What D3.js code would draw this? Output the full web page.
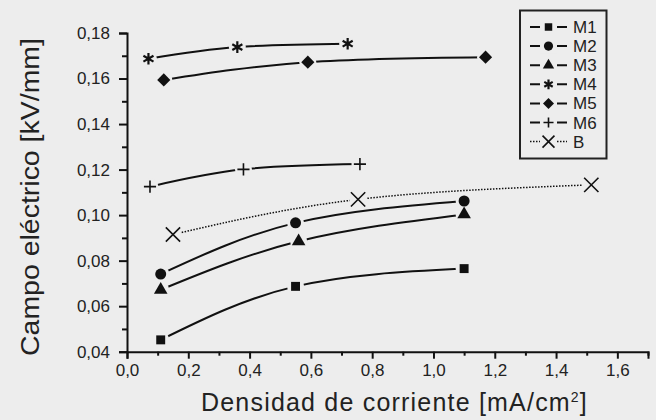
<!DOCTYPE html>
<html>
<head>
<meta charset="utf-8">
<script src="https://cdn.jsdelivr.net/npm/d3@7"></script>
<style>
    body { margin: 0; background: #ededed; }
    svg { display: block; font-family: "Liberation Sans", Arial, sans-serif; }
</style>
</head>
<body>
<div id="chart"></div>
<script>
// series data
const seriesNames = ['M1', 'M2', 'M3', 'M4', 'M5', 'M6', 'B'];
const m1X = [0.11, 0.55, 1.10], m1Y = [0.0452, 0.0687, 0.0765];
const m2X = [0.11, 0.55, 1.10], m2Y = [0.0741, 0.0966, 0.1062];
const m3X = [0.11, 0.56, 1.10], m3Y = [0.0672, 0.0885, 0.1003];
const m4X = [0.07, 0.36, 0.72], m4Y = [0.1687, 0.1738, 0.1753];
const m5X = [0.12, 0.59, 1.17], m5Y = [0.1594, 0.1672, 0.1694];
const m6X = [0.075, 0.38, 0.76], m6Y = [0.1125, 0.1201, 0.1224];
const bX = [0.15, 0.754, 1.515], bY = [0.0915, 0.1069, 0.1133];

const xTicks = [0, 0.2, 0.4, 0.6, 0.8, 1.0, 1.2, 1.4, 1.6];
const xMinor = [0.1, 0.3, 0.5, 0.7, 0.9, 1.1, 1.3, 1.5, 1.7];
const yTicks = [0.04, 0.06, 0.08, 0.10, 0.12, 0.14, 0.16, 0.18];
const yMinor = [0.05, 0.07, 0.09, 0.11, 0.13, 0.15, 0.17];

const xTitle = 'Densidad de corriente [mA/cm';
const yTitle = 'Campo eléctrico [kV/mm]';

const width = 656, height = 420;
const margin = { top: 33, right: 8, bottom: 68.3, left: 127 };
const bg = '#ededed';

const series = [
    { name: 'M1', xs: m1X, ys: m1Y, sym: 'square' },
    { name: 'M2', xs: m2X, ys: m2Y, sym: 'circle' },
    { name: 'M3', xs: m3X, ys: m3Y, sym: 'triangle' },
    { name: 'M4', xs: m4X, ys: m4Y, sym: 'asterisk' },
    { name: 'M5', xs: m5X, ys: m5Y, sym: 'diamond' },
    { name: 'M6', xs: m6X, ys: m6Y, sym: 'plus' },
    { name: 'B', xs: bX, ys: bY, sym: 'times', dotted: true }
];

const svg = d3.select('#chart').append('svg')
    .attr('width', width)
    .attr('height', height);

svg.append('rect').attr('width', width).attr('height', height).attr('fill', bg);

const x = d3.scaleLinear().domain([0, 1.7]).range([margin.left, width - margin.right]);
const y = d3.scaleLinear().domain([0.04, 0.18]).range([height - margin.bottom, margin.top]);

const comma = f => v => d3.format(f)(v).replace('.', ',');

// axes
svg.append('g')
    .attr('transform', `translate(0,${y(0.04)})`)
    .call(d3.axisBottom(x).tickValues(xTicks).tickFormat(comma('.1f')).tickSize(7).tickPadding(5));
svg.append('g')
    .attr('transform', `translate(0,${y(0.04)})`)
    .call(d3.axisBottom(x).tickValues(xMinor).tickFormat('').tickSize(4))
    .select('.domain').remove();

svg.append('g')
    .attr('transform', `translate(${x(0)},0)`)
    .call(d3.axisLeft(y).tickValues(yTicks).tickFormat(comma('.2f')).tickSize(8).tickPadding(9));
svg.append('g')
    .attr('transform', `translate(${x(0)},0)`)
    .call(d3.axisLeft(y).tickValues(yMinor).tickFormat('').tickSize(5))
    .select('.domain').remove();

svg.selectAll('.domain').attr('stroke', '#111').attr('stroke-width', 2);
svg.selectAll('.tick line').attr('stroke', '#111').attr('stroke-width', 2);
svg.selectAll('.tick text')
    .attr('fill', '#222')
    .style('font-size', '17px')
    .style('font-family', '"Liberation Sans", Arial, sans-serif');

// axis titles
const xt = svg.append('text')
    .attr('x', 201)
    .attr('y', 411)
    .attr('fill', '#222')
    .style('font-size', '25px')
    .style('letter-spacing', '1.2px');
xt.append('tspan').text(xTitle);
xt.append('tspan').attr('dy', -9).style('font-size', '14px').text('2');
xt.append('tspan').attr('dy', 9).text(']');

svg.append('text')
    .attr('transform', 'translate(39,197) rotate(-90)')
    .attr('text-anchor', 'middle')
    .attr('fill', '#222')
    .attr('textLength', 318)
    .attr('lengthAdjust', 'spacingAndGlyphs')
    .style('font-size', '26px')
    .text(yTitle);

// marker drawing
function symbolPath(sym, s) {
    const types = {
        square: d3.symbolSquare, circle: d3.symbolCircle, triangle: d3.symbolTriangle,
        asterisk: d3.symbolAsterisk, diamond: d3.symbolDiamond2, plus: d3.symbolPlus, times: d3.symbolTimes
    };
    return d3.symbol().type(types[sym]).size(s)();
}
const stroked = { asterisk: true, plus: true, times: true };
const mainSize = { square: 80, circle: 95, triangle: 80, asterisk: 95, diamond: 110, plus: 50, times: 135 };

function drawMarker(g, sym, cx, cy, scale) {
    const p = g.append('path')
        .attr('transform', `translate(${cx},${cy})`)
        .attr('d', symbolPath(sym, mainSize[sym] * scale));
    if (stroked[sym]) {
        p.attr('fill', 'none').attr('stroke', '#111').attr('stroke-width', sym === 'asterisk' ? 2.2 : 1.6);
    } else {
        p.attr('fill', '#111');
    }
}

// lines
const line = d3.line().curve(d3.curveNatural).x(d => x(d[0])).y(d => y(d[1]));
series.forEach(s => {
    const pts = s.xs.map((v, i) => [v, s.ys[i]]);
    svg.append('path')
        .attr('d', line(pts))
        .attr('fill', 'none')
        .attr('stroke', '#111')
        .attr('stroke-width', s.dotted ? 1.5 : 2)
        .attr('stroke-dasharray', s.dotted ? '1.5,1.5' : null);
});

// gaps around markers, then markers
series.forEach(s => {
    s.xs.forEach((v, i) => {
        svg.append('circle').attr('cx', x(v)).attr('cy', y(s.ys[i])).attr('r', 8.5).attr('fill', bg);
    });
});
series.forEach(s => {
    s.xs.forEach((v, i) => drawMarker(svg, s.sym, x(v), y(s.ys[i]), 1));
});

// legend
const legend = svg.append('g');
legend.append('rect')
    .attr('x', 520).attr('y', 10.5)
    .attr('width', 86.5).attr('height', 148)
    .attr('fill', bg)
    .attr('stroke', '#222')
    .attr('stroke-width', 2);

series.forEach((s, i) => {
    const ly = 27 + i * 19.1;
    legend.append('line')
        .attr('x1', 530).attr('x2', 567)
        .attr('y1', ly).attr('y2', ly)
        .attr('stroke', '#111')
        .attr('stroke-width', s.dotted ? 1.5 : 2)
        .attr('stroke-dasharray', s.dotted ? '1.5,1.5' : null);
    legend.append('rect')
        .attr('x', 540).attr('y', ly - 7).attr('width', 17).attr('height', 14)
        .attr('fill', bg);
    drawMarker(legend, s.sym, 548.5, ly, 0.7);
    legend.append('text')
        .attr('x', 573)
        .attr('y', ly + 6)
        .attr('fill', '#222')
        .style('font-size', '17px')
        .text(s.name);
});
</script>
</body>
</html>
